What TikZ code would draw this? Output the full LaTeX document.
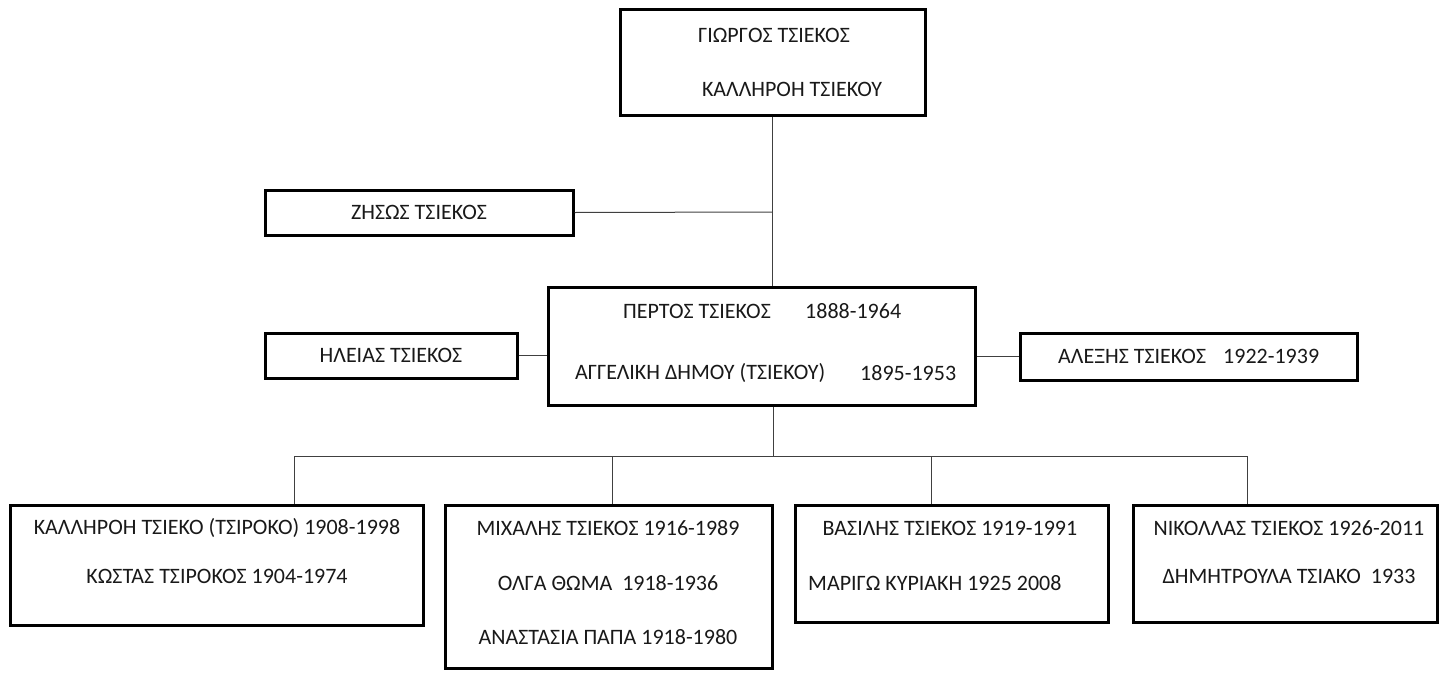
\documentclass[tikz,border=0pt]{standalone}
\usepackage{fontspec}
\setmainfont{Carlito}
\begin{document}
\begin{tikzpicture}[x=1pt,y=-1pt,
  box/.style={draw=black, line width=3pt, fill=white, inner sep=0pt},
  link/.style={draw=black!75, line width=1pt},
  txt/.style={inner sep=0pt, font=\fontsize{22}{26}\selectfont, text=black!90}]
\useasboundingbox (0,0) rectangle (1439,672);

% family boxes
\node[box, minimum width=305pt, minimum height=106pt] (top) at (772.5,62) {};
\node[box, minimum width=308pt, minimum height=45pt] (zisos) at (419,212.5) {};
\node[box, minimum width=427pt, minimum height=118pt] (mid) at (761.5,346) {};
\node[box, minimum width=252pt, minimum height=45pt] (ileias) at (391,355.5) {};
\node[box, minimum width=337pt, minimum height=47pt] (alexis) at (1188.5,356.5) {};
\node[box, minimum width=413pt, minimum height=120pt] (c1) at (216.5,565) {};
\node[box, minimum width=327pt, minimum height=163pt] (c2) at (608.5,586.5) {};
\node[box, minimum width=313pt, minimum height=117pt] (c3) at (951.5,563.5) {};
\node[box, minimum width=304pt, minimum height=117pt] (c4) at (1285,563.5) {};

% connectors
\coordinate (trunk) at (772,212);
\coordinate (bus) at (773,456);
\coordinate (d1) at (294,456);
\coordinate (d2) at (612,456);
\coordinate (d3) at (931,456);
\coordinate (d4) at (1247,456);
\draw[link] (top.south -| trunk) -- (mid.north -| trunk);
\draw[link] (zisos.east) -- (trunk);
\draw[link] (ileias.east) -- (ileias.east -| mid.west);
\draw[link] (mid.east |- alexis.west) -- (alexis.west);
\draw[link] (mid.south -| bus) -- (bus);
\draw[link] (d1) -- (d4);
\draw[link] (d1) -- (d1 |- c1.north);
\draw[link] (d2) -- (d2 |- c2.north);
\draw[link] (d3) -- (d3 |- c3.north);
\draw[link] (d4) -- (d4 |- c4.north);

% names
\node[txt] (t1) at (774,35) {ΓΙΩΡΓΟΣ ΤΣΙΕΚΟΣ};
\node[txt] (t2) at (792,89) {ΚΑΛΛΗΡΟΗ ΤΣΙΕΚΟΥ};
\node[txt] (z1) at (zisos) {ΖΗΣΩΣ ΤΣΙΕΚΟΣ};
\node[txt] (i1) at (ileias) {ΗΛΕΙΑΣ ΤΣΙΕΚΟΣ};
\node[txt, anchor=west] (m1) at (623,311) {ΠΕΡΤΟΣ ΤΣΙΕΚΟΣ};
\node[txt, anchor=west] (m1y) at (805,311) {1888-1964};
\node[txt, anchor=west] (m2) at (575,373) {ΑΓΓΕΛΙΚΗ ΔΗΜΟΥ (ΤΣΊΕΚΟΥ)};
\node[txt, anchor=west] (m2y) at (860,373) {1895-1953};
\node[txt, anchor=west] (a1) at (1058,356) {ΑΛΕΞΗΣ ΤΣΙΕΚΟΣ};
\node[txt, anchor=west] (a1y) at (1223,356) {1922-1939};
\node[txt] (k1) at (217,528) {ΚΑΛΛΗΡΟΗ ΤΣΙΕΚΟ (ΤΣΙΡΟΚΟ) 1908-1998};
\node[txt] (k2) at (217,576) {ΚΩΣΤΑΣ ΤΣΙΡΟΚΟΣ 1904-1974};
\node[txt] (h1) at (608,528) {ΜΙΧΑΛΗΣ ΤΣΙΕΚΟΣ 1916-1989};
\node[txt] (h2) at (608,583) {ΟΛΓΑ ΘΩΜΑ\ \ 1918-1936};
\node[txt] (h3) at (608,637) {ΑΝΑΣΤΑΣΙΑ ΠΑΠΑ 1918-1980};
\node[txt] (b1) at (950,528) {ΒΑΣΙΛΗΣ ΤΣΙΕΚΟΣ 1919-1991};
\node[txt, anchor=west] (b2) at (808,583) {ΜΑΡΙΓΩ ΚΥΡΙΑΚΗ 1925 2008};
\node[txt] (n1) at (1289,528) {ΝΙΚΟΛΛΑΣ ΤΣΙΕΚΟΣ 1926-2011};
\node[txt] (n2) at (1289,576) {ΔΗΜΗΤΡΟΥΛΑ ΤΣΙΑΚΟ\ \ 1933};
\end{tikzpicture}
\end{document}
